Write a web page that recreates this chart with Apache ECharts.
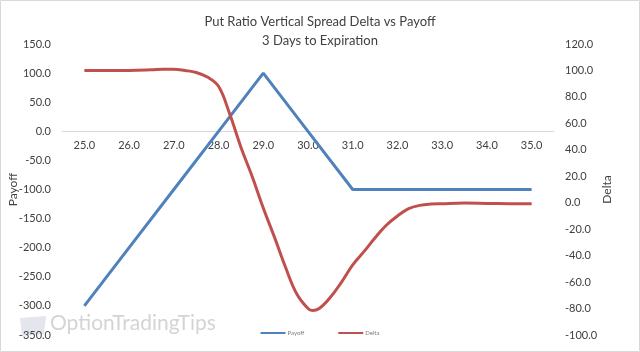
<!DOCTYPE html>
<html>
<head>
<meta charset="utf-8">
<script src="https://cdn.jsdelivr.net/npm/echarts@6/dist/echarts.min.js"></script>
<style>
  html, body { margin: 0; padding: 0; background: #fff; }
  #chart { width: 640px; height: 352px; }
</style>
</head>
<body>
<div id="chart"></div>
<script>
// strike prices shown on the x axis
const strikes = [25, 26, 27, 28, 29, 30, 31, 32, 33, 34, 35];
// payoff at expiration for each strike
const payoff = [-300, -200, -100, 0, 100, 0, -100, -100, -100, -100, -100];

// delta curve, read at quarter steps
const deltaX = [25, 25.5, 26, 26.5, 26.75, 27, 27.25, 27.5, 27.75, 28, 28.25, 28.5, 28.75,
  29, 29.25, 29.5, 29.75, 30, 30.1, 30.25, 30.5, 30.75, 31, 31.25, 31.5, 31.75,
  32, 32.25, 32.5, 32.75, 33, 33.5, 34, 34.5, 35];
const delta = [100, 100, 100, 100.5, 101, 101, 100, 98.5, 95, 88, 67, 42, 20,
  -4, -26, -49, -69, -80, -81.5, -80, -71.5, -60, -47, -37, -26.5, -17,
  -10, -4.5, -2, -1, -0.7, -0.3, -0.5, -0.7, -0.8];

const payoffLeft = { min: -350, max: 150, step: 50 };
const deltaRight = { min: -100, max: 120, step: 20 };

const font = 'Lato';
const textColor = '#404040';

const gridTop = 44, gridBottom = 17, chartH = 352;
// the x axis sits on payoff = 0, so shift it up from the grid bottom
const plotH = chartH - gridTop - gridBottom;
const zeroOffset = -plotH * (0 - payoffLeft.min) / (payoffLeft.max - payoffLeft.min);

const chart = echarts.init(document.getElementById('chart'));

const option = {
  animation: false,
  title: {
    text: 'Put Ratio Vertical Spread Delta vs Payoff\n3 Days to Expiration',
    left: 'center',
    top: 7,
    textStyle: { fontFamily: font, fontSize: 13, fontWeight: 'normal', color: textColor, lineHeight: 19 }
  },
  legend: {
    left: 'center',
    top: 325,
    icon: 'rect',
    itemWidth: 25,
    itemHeight: 2,
    itemGap: 34,
    textStyle: { fontFamily: font, fontSize: 6, color: '#7f7f7f', padding: [0, 0, 0, -3] },
    data: ['Payoff', 'Delta']
  },
  grid: { left: 62, right: 86, top: gridTop, bottom: gridBottom, outerBoundsMode: 'none' },
  xAxis: {
    type: 'value',
    min: 24.5,
    max: 35.5,
    position: 'bottom',
    offset: zeroOffset,
    axisLine: { onZero: false, lineStyle: { color: '#d9d9d9', width: 1 } },
    axisTick: { show: false },
    splitLine: { show: false },
    axisLabel: {
      customValues: strikes,
      margin: 9,
      fontFamily: font,
      fontSize: 11,
      color: textColor,
      formatter: v => v.toFixed(1)
    }
  },
  yAxis: [
    {
      type: 'value',
      min: payoffLeft.min,
      max: payoffLeft.max,
      interval: payoffLeft.step,
      name: 'Payoff',
      nameLocation: 'middle',
      nameGap: 43,
      nameRotate: 90,
      nameMoveOverlap: false,
      nameTextStyle: { fontFamily: font, fontSize: 12, color: textColor },
      axisLine: { show: false },
      axisTick: { show: false },
      splitLine: { show: false },
      axisLabel: { margin: 11, fontFamily: font, fontSize: 11, color: textColor, formatter: v => v.toFixed(1) }
    },
    {
      type: 'value',
      min: deltaRight.min,
      max: deltaRight.max,
      interval: deltaRight.step,
      name: 'Delta',
      nameLocation: 'middle',
      nameGap: 47,
      nameRotate: 90,
      nameMoveOverlap: false,
      nameTextStyle: { fontFamily: font, fontSize: 12, color: textColor },
      axisLine: { show: false },
      axisTick: { show: false },
      splitLine: { show: false },
      axisLabel: { margin: 11, fontFamily: font, fontSize: 11, color: textColor, formatter: v => v.toFixed(1) }
    }
  ],
  series: [
    {
      name: 'Payoff',
      type: 'line',
      yAxisIndex: 0,
      data: strikes.map((s, i) => [s, payoff[i]]),
      showSymbol: false,
      lineStyle: { color: '#4F81BD', width: 3 },
      itemStyle: { color: '#4F81BD' }
    },
    {
      name: 'Delta',
      type: 'line',
      yAxisIndex: 1,
      data: deltaX.map((x, i) => [x, delta[i]]),
      smooth: 0.4,
      showSymbol: false,
      lineStyle: { color: '#C0504D', width: 3 },
      itemStyle: { color: '#C0504D' }
    }
  ],
  graphic: [
    {
      type: 'rect',
      shape: { x: 0.5, y: 0.5, width: 639, height: 351 },
      style: { fill: 'none', stroke: '#d9d9d9', lineWidth: 1 },
      silent: true
    },
    {
      type: 'polygon',
      shape: { points: [[20, 318], [46, 316], [44, 334], [22, 336]] },
      style: { fill: '#e4e6ee' },
      silent: true
    },
    {
      type: 'text',
      left: 50,
      top: 313,
      style: {
        text: 'OptionTradingTips',
        fontFamily: font,
        fontSize: 21,
        fill: '#d4d4d4'
      },
      silent: true
    }
  ]
};

chart.setOption(option);
</script>
</body>
</html>
